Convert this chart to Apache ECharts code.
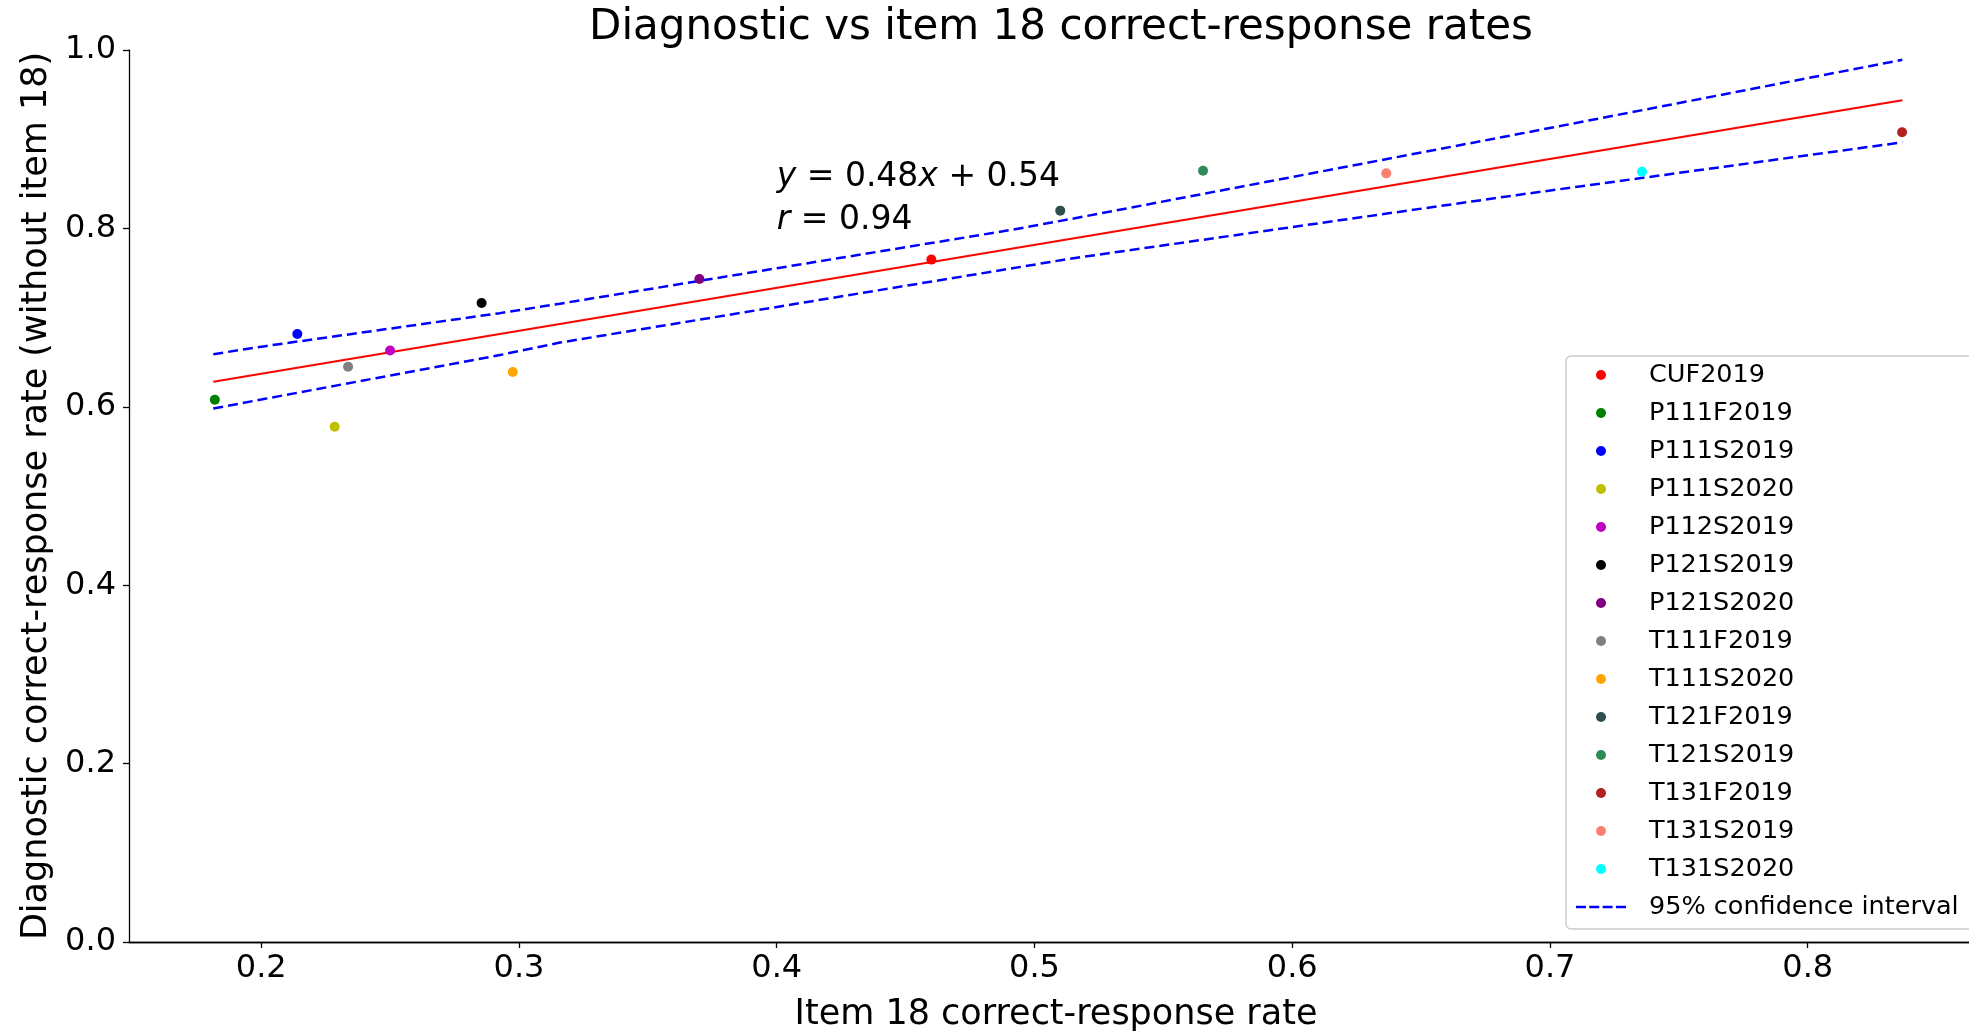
<!DOCTYPE html>
<html>
<head>
<meta charset="utf-8">
<script src="https://cdn.jsdelivr.net/npm/echarts@6/dist/echarts.min.js"></script>
<style>
  html, body { margin: 0; padding: 0; background: #fff; }
  #chart { width: 1969px; height: 1032px; }
</style>
</head>
<body>
<div id="chart"></div>
<script>
// groups and their marker colours
const groups = ['CUF2019', 'P111F2019', 'P111S2019', 'P111S2020', 'P112S2019', 'P121S2019', 'P121S2020',
  'T111F2019', 'T111S2020', 'T121F2019', 'T121S2019', 'T131F2019', 'T131S2019', 'T131S2020'];
const groupColors = ['#ff0000', '#008000', '#0000ff', '#bfbf00', '#bf00bf', '#000000', '#800080',
  '#808080', '#ffa500', '#2f4f4f', '#2e8b57', '#b22222', '#fa8072', '#00ffff'];
// item 18 rate (x) and diagnostic rate without item 18 (y)
const item18Rate = [0.460, 0.182, 0.214, 0.2285, 0.250, 0.2855, 0.370, 0.2337, 0.2976, 0.510, 0.5654, 0.8366, 0.6365, 0.7357];
const diagRate = [0.765, 0.608, 0.6816, 0.5776, 0.6632, 0.7163, 0.7433, 0.6449, 0.639, 0.8199, 0.8647, 0.9077, 0.8617, 0.8636];

// fit line end points
const fitX = [0.1814, 0.8367];
const fitY = [0.628, 0.9436];
// confidence band, sampled along the dashed lines
const ciX = [0.1814, 0.2015, 0.2926, 0.3159, 0.4904, 0.5137, 0.6882, 0.7115, 0.8367];
const ciUpper = [0.659, 0.668, 0.705, 0.7156, 0.798, 0.8103, 0.906, 0.919, 0.989];
const ciLower = [0.598, 0.609, 0.658, 0.672, 0.7548, 0.766, 0.8378, 0.847, 0.8965];

const xTicks = [0.2, 0.3, 0.4, 0.5, 0.6, 0.7, 0.8];
const font = 'DejaVu Sans';
// 4-dash legend icon for the band
const dashIcon = 'path://M0,0h10v2.5h-10zM13.3,0h10v2.5h-10zM26.6,0h10v2.5h-10zM40,0h10v2.5h-10z';

const chart = echarts.init(document.getElementById('chart'));

let series = [];
groups.forEach((g, i) => {
  series.push({
    name: g,
    type: 'scatter',
    symbol: 'circle',
    symbolSize: 10,
    itemStyle: { color: groupColors[i], opacity: 1 },
    data: [[item18Rate[i], diagRate[i]]],
    z: 3
  });
});
series.push({
  name: 'fit',
  type: 'line',
  symbol: 'none',
  lineStyle: { color: '#ff0000', width: 2 },
  data: fitX.map((x, i) => [x, fitY[i]]),
  z: 2
});
// upper and lower band share one legend entry
[ciUpper, ciLower].forEach(band => {
  series.push({
    name: '95% confidence interval',
    type: 'line',
    symbol: 'none',
    itemStyle: { color: '#0000ff' },
    lineStyle: { color: '#0000ff', width: 2.5, type: [10, 5] },
    data: ciX.map((x, i) => [x, band[i]]),
    z: 2
  });
});

chart.setOption({
  animation: false,
  textStyle: { fontFamily: font },
  title: {
    text: 'Diagnostic vs item 18 correct-response rates',
    left: 1056,
    textAlign: 'center',
    top: 2,
    textStyle: { fontFamily: font, fontSize: 42, fontWeight: 'normal', color: '#000' }
  },
  grid: { left: 129, right: -14, top: 50, bottom: 90, outerBoundsMode: 'none', containLabel: false },
  xAxis: [
    {
      type: 'value',
      min: 0.1487,
      max: 0.868,
      name: 'Item 18 correct-response rate',
      nameLocation: 'middle',
      nameGap: 55,
      nameTextStyle: { fontSize: 35, color: '#000' },
      axisLine: { onZero: false, lineStyle: { color: '#000', width: 1.3 } },
      axisTick: { show: true, length: 6, customValues: xTicks, lineStyle: { color: '#000', width: 1.3 } },
      axisLabel: { customValues: xTicks, fontSize: 32, color: '#000', margin: 11,
        formatter: v => v.toFixed(1) },
      splitLine: { show: false }
    },
    {
      type: 'value',
      position: 'top',
      min: 0.1487,
      max: 0.868,
      axisLine: { show: true, lineStyle: { color: '#000', width: 1.3 } },
      axisTick: { show: false },
      axisLabel: { show: false },
      splitLine: { show: false }
    }
  ],
  yAxis: {
    type: 'value',
    min: 0,
    max: 1,
    interval: 0.2,
    name: 'Diagnostic correct-response rate (without item 18)',
    nameLocation: 'middle',
    nameRotate: 90,
    nameGap: 74,
    nameTextStyle: { fontSize: 35, color: '#000' },
    axisLine: { show: true, lineStyle: { color: '#000', width: 1.3 } },
    axisTick: { show: true, length: 6, lineStyle: { color: '#000', width: 1.3 } },
    axisLabel: { fontSize: 32, color: '#000', margin: 13, formatter: v => v.toFixed(1) },
    splitLine: { show: false }
  },
  legend: {
    orient: 'vertical',
    left: 1566,
    top: 356,
    padding: [5, 40, 8, 10],
    itemWidth: 50,
    itemHeight: 10,
    itemGap: 10,
    backgroundColor: 'rgba(255,255,255,0.85)',
    borderColor: '#cccccc',
    borderWidth: 1.5,
    borderRadius: 5,
    textStyle: { fontFamily: font, fontSize: 25.5, lineHeight: 28, color: '#000', padding: [0, 0, 0, 18] },
    data: groups.map(g => ({ name: g, icon: 'circle' }))
      .concat([{ name: '95% confidence interval', icon: dashIcon }])
  },
  series: series
});

// regression note, anchored at data point (0.4, 0.8)
const p = chart.convertToPixel({ gridIndex: 0 }, [0.4, 0.8]);
const rich = {
  i: { fontFamily: font, fontStyle: 'italic', fontSize: 33, color: '#000' },
  n: { fontFamily: font, fontSize: 33, color: '#000' }
};
chart.setOption({
  graphic: [
    {
      type: 'text', x: p[0], y: p[1] - 51, z: 10,
      style: { text: '{i|y}{n| = 0.48}{i|x}{n| + 0.54}', rich: rich, verticalAlign: 'middle', align: 'left' }
    },
    {
      type: 'text', x: p[0], y: p[1] - 8, z: 10,
      style: { text: '{i|r}{n| = 0.94}', rich: rich, verticalAlign: 'middle', align: 'left' }
    }
  ]
});
</script>
</body>
</html>
